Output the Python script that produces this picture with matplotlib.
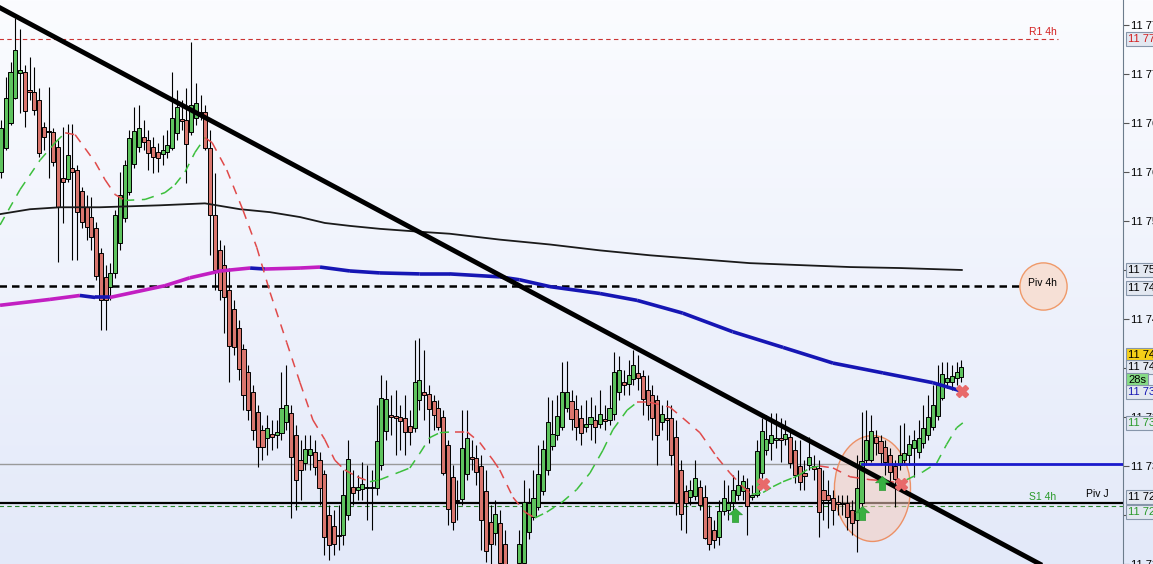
import numpy as np
import matplotlib
matplotlib.use('Agg')
import matplotlib.pyplot as plt
import matplotlib.transforms as mtrans
from matplotlib.patches import Rectangle, Ellipse
from matplotlib.colors import LinearSegmentedColormap

plt.rcParams['font.family'] = ['Liberation Sans', 'DejaVu Sans']

# ── Candles (one value per bar) ──────────────────────────────────────────
opens = [
    11760.0, 11762.4, 11765.0, 11767.6, 11770.1, 11770.2, 11768.4, 11768.2, 11767.3, 11764.6,
    11764.2, 11764.1, 11762.5, 11759.4, 11759.3, 11760.4, 11760.2, 11758.1, 11756.4, 11755.4,
    11754.3, 11751.7, 11749.3, 11748.3, 11749.7, 11752.8, 11755.3, 11758.0, 11760.8, 11762.5,
    11763.6, 11763.3, 11762.5, 11762.0, 11761.8, 11762.0, 11762.4, 11764.0, 11765.4, 11765.3,
    11764.1, 11765.5, 11766.1, 11766.1, 11762.4, 11755.6, 11752.0, 11750.5, 11748.0, 11746.0,
    11744.1, 11741.9, 11739.6, 11737.6, 11735.5, 11733.7, 11732.9, 11733.3, 11733.2, 11733.4,
    11734.5, 11735.4, 11733.2, 11730.6, 11730.3, 11731.1, 11731.4, 11730.6, 11729.2, 11725.0,
    11723.9, 11723.0, 11723.0, 11725.0, 11727.9, 11727.6, 11727.7, 11727.8, 11727.8, 11727.8,
    11730.1, 11733.6, 11735.2, 11735.1, 11735.0, 11734.9, 11734.1, 11733.9, 11736.7, 11737.6,
    11737.3, 11736.6, 11735.9, 11735.0, 11732.1, 11728.9, 11726.5, 11726.6, 11729.2, 11730.9,
    11730.8, 11730.0, 11727.4, 11724.3, 11723.2, 11724.2, 11722.0, 11718.9, 11717.3, 11720.1,
    11720.1, 11723.3, 11724.8, 11725.8, 11727.4, 11729.6, 11732.0, 11733.2, 11734.0, 11735.9,
    11736.6, 11735.8, 11734.9, 11734.0, 11734.3, 11734.7, 11734.3, 11734.8, 11734.7, 11735.3,
    11737.5, 11738.6, 11738.4, 11738.9, 11739.5, 11739.2, 11737.8, 11737.2, 11736.7, 11734.5,
    11734.9, 11734.9, 11733.0, 11729.6, 11727.4, 11726.8, 11726.9, 11727.9, 11726.8, 11724.8,
    11723.5, 11722.8, 11725.4, 11725.5, 11726.3, 11727.0, 11727.4, 11727.8, 11726.8, 11727.0,
    11729.3, 11731.6, 11732.3, 11732.7, 11732.9, 11732.8, 11733.0, 11731.6, 11730.0, 11729.3,
    11730.1, 11730.0, 11729.8, 11727.6, 11727.0, 11726.7, 11726.3, 11726.2, 11726.2, 11725.5,
    11724.5, 11726.2, 11730.6, 11730.6, 11733.0, 11732.5, 11731.9, 11731.1, 11730.0, 11730.1,
    11730.6, 11731.1, 11731.8, 11731.4, 11732.3, 11733.2, 11734.0, 11735.1, 11736.9, 11738.6,
    11738.6, 11739.0, 11739.1,
]
closes = [
    11764.5, 11767.6, 11770.2, 11772.4, 11770.4, 11766.2, 11768.2, 11766.3, 11761.9, 11763.6,
    11764.1, 11761.0, 11756.4, 11759.0, 11761.7, 11760.0, 11755.9, 11754.9, 11754.4, 11753.4,
    11749.4, 11746.9, 11746.9, 11749.7, 11755.6, 11757.7, 11760.7, 11763.5, 11764.2, 11764.5,
    11763.1, 11761.9, 11761.5, 11761.4, 11762.2, 11762.8, 11765.5, 11766.6, 11765.2, 11762.9,
    11766.8, 11767.0, 11766.0, 11762.4, 11755.6, 11750.0, 11748.0, 11747.2, 11742.2, 11742.1,
    11739.9, 11737.2, 11735.7, 11733.7, 11731.9, 11731.9, 11733.9, 11733.0, 11733.5, 11735.9,
    11736.2, 11730.9, 11728.6, 11729.6, 11731.7, 11731.7, 11729.9, 11727.8, 11722.8, 11721.9,
    11722.0, 11722.9, 11727.0, 11730.7, 11727.2, 11727.9, 11728.2, 11727.8, 11727.8, 11732.5,
    11736.9, 11736.8, 11735.0, 11734.9, 11734.6, 11733.5, 11733.5, 11738.6, 11738.8, 11737.2,
    11735.8, 11735.2, 11734.0, 11729.3, 11725.6, 11724.3, 11726.4, 11731.8, 11732.9, 11730.7,
    11729.4, 11724.5, 11721.3, 11722.0, 11725.1, 11720.1, 11718.9, 11717.3, 11718.9, 11722.0,
    11726.3, 11726.2, 11726.7, 11729.2, 11731.7, 11734.5, 11733.3, 11735.1, 11737.6, 11737.6,
    11734.8, 11734.0, 11733.4, 11734.3, 11735.0, 11734.0, 11735.3, 11734.6, 11735.9, 11739.6,
    11739.8, 11738.3, 11739.3, 11740.3, 11739.0, 11736.8, 11736.2, 11734.9, 11733.2, 11735.3,
    11734.7, 11731.1, 11726.2, 11725.1, 11726.2, 11727.5, 11728.8, 11726.0, 11722.7, 11722.0,
    11722.4, 11725.4, 11726.7, 11726.2, 11727.5, 11728.1, 11728.5, 11725.9, 11727.0, 11731.5,
    11733.6, 11732.8, 11733.2, 11732.9, 11732.7, 11733.3, 11730.3, 11729.1, 11728.4, 11729.0,
    11730.9, 11729.7, 11725.3, 11726.5, 11726.5, 11725.5, 11726.1, 11726.1, 11724.8, 11724.2,
    11727.8, 11730.5, 11732.7, 11733.6, 11732.3, 11731.3, 11730.4, 11729.4, 11728.7, 11731.1,
    11731.3, 11732.2, 11732.7, 11732.9, 11733.9, 11735.0, 11736.2, 11738.3, 11739.4, 11739.0,
    11739.2, 11739.6, 11740.1,
]
highs = [
    11765.3, 11769.7, 11771.2, 11775.7, 11774.6, 11770.9, 11771.7, 11770.7, 11768.6, 11765.1,
    11768.7, 11764.5, 11763.3, 11764.6, 11764.9, 11764.9, 11760.7, 11758.5, 11757.7, 11757.4,
    11754.9, 11752.2, 11750.5, 11750.7, 11756.1, 11760.0, 11761.2, 11764.3, 11766.6, 11766.8,
    11765.3, 11764.3, 11763.6, 11763.0, 11763.8, 11764.3, 11770.2, 11768.4, 11767.3, 11768.6,
    11773.3, 11769.1, 11767.9, 11766.8, 11764.3, 11759.9, 11753.1, 11752.5, 11750.2, 11746.9,
    11744.9, 11742.4, 11740.3, 11738.3, 11736.2, 11734.2, 11735.2, 11734.7, 11734.7, 11739.6,
    11740.3, 11736.2, 11734.2, 11732.7, 11733.2, 11733.2, 11732.7, 11731.4, 11729.6, 11726.0,
    11725.5, 11726.0, 11729.6, 11732.7, 11729.6, 11729.1, 11730.4, 11730.1, 11729.6, 11736.2,
    11739.3, 11738.8, 11737.2, 11737.8, 11736.2, 11737.2, 11735.7, 11742.9, 11743.1, 11741.8,
    11738.3, 11737.2, 11736.7, 11735.7, 11732.7, 11730.1, 11728.6, 11735.7, 11735.7, 11732.7,
    11732.1, 11731.1, 11729.6, 11726.0, 11726.5, 11725.5, 11723.5, 11719.9, 11719.4, 11723.5,
    11728.6, 11727.8, 11729.6, 11732.1, 11732.7, 11737.0, 11736.7, 11737.2, 11740.6, 11740.7,
    11737.8, 11737.2, 11736.2, 11736.7, 11737.0, 11736.2, 11737.8, 11736.2, 11738.3, 11741.6,
    11741.2, 11739.8, 11740.8, 11741.8, 11741.3, 11739.8, 11739.3, 11738.3, 11737.2, 11736.2,
    11736.7, 11736.2, 11734.7, 11730.6, 11728.1, 11728.6, 11730.6, 11728.6, 11728.1, 11726.0,
    11724.5, 11726.5, 11728.6, 11728.1, 11729.1, 11729.6, 11729.1, 11728.8, 11728.1, 11732.7,
    11734.9, 11735.2, 11735.4, 11735.4, 11734.9, 11734.7, 11733.7, 11732.7, 11732.7, 11730.6,
    11733.0, 11731.1, 11730.6, 11729.6, 11728.6, 11727.6, 11727.0, 11727.0, 11727.0, 11726.5,
    11731.1, 11735.5, 11735.7, 11735.2, 11733.7, 11733.2, 11732.7, 11731.8, 11730.6, 11734.2,
    11734.4, 11733.2, 11733.7, 11734.7, 11736.2, 11737.2, 11738.3, 11740.3, 11740.6, 11740.6,
    11740.3, 11740.6, 11740.8,
]
lows = [
    11759.4, 11762.2, 11764.8, 11767.4, 11766.0, 11764.6, 11767.3, 11765.8, 11761.5, 11762.2,
    11759.4, 11760.6, 11750.8, 11754.8, 11759.0, 11751.0, 11751.0, 11754.3, 11753.1, 11752.0,
    11749.0, 11743.9, 11743.9, 11746.9, 11749.2, 11752.0, 11754.9, 11757.7, 11760.4, 11762.0,
    11762.2, 11760.2, 11759.9, 11760.0, 11760.7, 11761.4, 11762.2, 11763.3, 11764.3, 11758.9,
    11763.8, 11764.8, 11765.3, 11762.2, 11751.5, 11748.0, 11746.9, 11743.6, 11738.6, 11741.3,
    11738.8, 11735.7, 11734.7, 11732.7, 11729.9, 11730.6, 11731.1, 11731.6, 11731.8, 11732.7,
    11733.7, 11724.7, 11725.5, 11726.5, 11729.6, 11729.6, 11729.1, 11726.0, 11720.9, 11720.4,
    11720.9, 11721.4, 11721.9, 11724.5, 11726.0, 11726.5, 11726.5, 11724.5, 11723.5, 11727.0,
    11729.6, 11732.7, 11733.2, 11731.1, 11731.6, 11731.1, 11732.1, 11733.5, 11735.7, 11734.7,
    11732.3, 11733.7, 11733.7, 11729.1, 11724.0, 11723.5, 11724.5, 11726.0, 11728.6, 11729.6,
    11728.1, 11721.4, 11720.2, 11720.0, 11721.9, 11718.9, 11717.3, 11716.3, 11716.3, 11719.4,
    11719.9, 11722.5, 11724.5, 11725.5, 11727.0, 11729.1, 11731.6, 11732.7, 11733.7, 11735.5,
    11733.7, 11732.7, 11732.1, 11733.5, 11732.7, 11732.3, 11733.9, 11733.7, 11734.2, 11734.7,
    11736.7, 11737.2, 11737.2, 11738.3, 11737.8, 11735.2, 11734.7, 11732.7, 11730.1, 11733.7,
    11732.7, 11730.1, 11725.0, 11723.5, 11723.2, 11726.0, 11726.5, 11725.5, 11722.5, 11721.4,
    11721.6, 11721.9, 11725.0, 11724.5, 11725.5, 11726.5, 11726.5, 11723.0, 11726.5, 11726.8,
    11728.8, 11731.1, 11730.6, 11731.8, 11730.4, 11732.1, 11729.8, 11728.3, 11727.6, 11727.6,
    11729.6, 11728.6, 11722.8, 11724.5, 11723.7, 11724.0, 11725.0, 11725.0, 11723.5, 11723.0,
    11721.2, 11725.5, 11730.1, 11730.4, 11731.1, 11730.1, 11729.1, 11728.1, 11725.8, 11729.6,
    11730.1, 11730.1, 11728.9, 11730.8, 11731.8, 11732.7, 11733.7, 11734.7, 11736.7, 11738.0,
    11737.8, 11738.3, 11738.6,
]

# ── Indicators (bar index, price) ───────────────────────────────────────
slow_bar = [-0.2, 6.1, 12.4, 20.8, 33.4, 42.9, 50.3, 56.6, 62.9, 68.1, 73.4, 79.7,
            88.1, 94.4, 104.9, 115.5, 126.0, 136.5, 147.0, 157.5, 168.0, 178.6, 189.1, 202.1]
slow_val = [11755.7, 11756.2, 11756.4, 11756.4, 11756.6, 11756.8, 11756.2, 11755.9,
            11755.4, 11754.8, 11754.5, 11754.2, 11753.9, 11753.7, 11753.1, 11752.6,
            11752.0, 11751.5, 11751.1, 11750.7, 11750.5, 11750.3, 11750.2, 11750.0]

mid_bar = [-0.2, 10.3, 16.6, 19.8, 22.9, 34.5, 39.7, 46.1, 52.4, 55.5, 62.9, 67.1,
           73.4, 79.7, 88.1, 94.4, 104.9, 109.1, 115.5, 126.0, 133.8, 143.4, 153.9,
           164.5, 175.0, 185.5, 196.0, 202.3]
mid_val = [11746.4, 11747.0, 11747.4, 11747.2, 11747.2, 11748.4, 11749.2, 11749.9,
           11750.2, 11750.1, 11750.2, 11750.3, 11749.9, 11749.7, 11749.6, 11749.6,
           11749.3, 11749.0, 11748.3, 11747.6, 11746.9, 11745.6, 11743.7, 11742.1,
           11740.5, 11739.5, 11738.5, 11737.6]

fast_bar = [-0.2, 4.0, 8.2, 11.4, 13.5, 15.6, 17.7, 19.8, 21.9, 24.0, 26.1, 30.3, 34.5,
            36.6, 38.7, 40.8, 42.9, 44.4, 47.5, 50.9, 53.8, 56.6, 60.1, 62.9, 65.6,
            68.1, 70.2, 72.3, 74.9, 77.6, 79.7, 83.9, 86.0, 88.1, 90.2, 92.3, 95.5,
            98.0, 100.7, 103.5, 104.9, 107.7, 110.2, 112.3, 114.8, 118.0, 121.1,
            123.9, 126.6, 128.7, 131.7, 133.8, 136.5, 140.7, 143.4, 147.0, 150.6,
            153.3, 156.0, 157.9, 160.3, 162.4, 164.5, 166.6, 168.0, 170.1, 172.2,
            175.0, 178.6, 182.8, 185.9, 188.4, 190.5, 193.9, 196.8, 198.9, 201.0, 202.3]
fast_val = [11754.6, 11758.2, 11761.2, 11763.0, 11764.0, 11763.8, 11762.4, 11761.0,
            11759.2, 11757.7, 11757.1, 11757.2, 11757.9, 11758.7, 11760.0, 11762.0,
            11763.5, 11763.0, 11760.2, 11756.1, 11752.3, 11747.7, 11742.6, 11738.5,
            11734.7, 11732.7, 11730.6, 11729.6, 11728.9, 11728.4, 11728.6, 11729.4,
            11729.8, 11731.3, 11732.9, 11733.4, 11733.5, 11733.5, 11732.4, 11730.6,
            11729.6, 11726.8, 11725.3, 11724.7, 11725.3, 11726.3, 11727.6, 11729.3,
            11731.6, 11733.7, 11735.7, 11736.5, 11736.5, 11736.0, 11734.9, 11733.4,
            11730.9, 11729.3, 11727.9, 11727.1, 11727.3, 11727.9, 11728.4, 11728.8,
            11729.1, 11729.8, 11730.0, 11729.8, 11728.9, 11728.6, 11728.5, 11728.3,
            11728.6, 11729.4, 11730.3, 11732.2, 11733.9, 11734.4]

trend_bar = [0, 200]
trend_val = [11776.7, 11724.8]

# ── Levels ───────────────────────────────────────────────────────────────
r1_level = 11773.6
piv4h_level = 11748.4
pivj_level = 11726.2
s1_level = 11725.9
gray_level = 11730.2
blue_level = 11730.2
ask_price = 11741.3
timer_text = '28s'

# signals
buy_bar = [154.4, 181.1, 185.3]
buy_val = [11725.0, 11725.2, 11728.3]
exit_bar = [160.3, 189.3, 202.1]
exit_val = [11728.2, 11728.2, 11737.7]

GREEN = '#5ec35e'
RED = '#d9766e'


def label(v):
    return f"11 {v - 11000:.0f}"


W, H = 1153, 564
fig = plt.figure(figsize=(W / 100, H / 100), dpi=100)

bg = fig.add_axes([0, 0, 1, 1], zorder=-10)
cmap = LinearSegmentedColormap.from_list('bg', ['#fbfcff', '#e3e9f9'])
bg.imshow(np.linspace(0, 1, 256)[:, None], aspect='auto', cmap=cmap, extent=[0, 1, 0, 1])
bg.axis('off')

ax = fig.add_axes([0, 0, 1123 / W, 1])
ax.patch.set_alpha(0)
ax.set_xlim(-0.21, 236.0)
ax.set_ylim(11720.0, 11777.55)

# horizontal levels
ax.plot([-1, 181.1], [gray_level] * 2, color='#9a9a9a', lw=1.0, zorder=2)
ax.plot([181.1, 240], [blue_level] * 2, color='#1a1acc', lw=2.0, zorder=6)
ax.plot([-1, 222.3], [r1_level] * 2, color='#cc3333', lw=0.8, ls=(0, (4, 3)), zorder=2)
ax.plot([-1, 223.1], [piv4h_level] * 2, color='black', lw=1.8, ls=(0, (3, 2)), zorder=2)
ax.plot([-1, 240], [pivj_level] * 2, color='black', lw=1.6, zorder=2)
ax.plot([-1, 240], [s1_level] * 2, color='#2a8a2a', lw=0.8, ls=(0, (4, 3)), zorder=2)

# ellipse highlight
ax.add_patch(Ellipse((183.3, 11727.7), 16.0, 10.8, fc=(0.96, 0.80, 0.74, 0.55),
                     ec='#ec9066', lw=1.0, zorder=2.5))

# candles
o = np.array(opens); c = np.array(closes)
hi = np.array(highs); lo = np.array(lows)
idx = np.arange(len(o))
ax.vlines(idx, lo, hi, color='black', lw=0.8, zorder=3)
bw = 0.86
for i in idx:
    bot = min(o[i], c[i])
    ht = max(abs(c[i] - o[i]), 0.04)
    ax.add_patch(Rectangle((i - bw / 2, bot), bw, ht, fc=GREEN if c[i] >= o[i] else RED,
                           ec='black', lw=0.7, zorder=4))

# moving averages
ax.plot(slow_bar, slow_val, color='#1a1a1a', lw=1.3, zorder=5)
for k in range(len(mid_bar) - 1):
    col = '#c21fc2' if mid_val[k + 1] > mid_val[k] else '#1616b4'
    ax.plot(mid_bar[k:k + 2], mid_val[k:k + 2], color=col, lw=2.6, zorder=5,
            solid_capstyle='butt')
for k in range(len(fast_bar) - 1):
    col = '#3cbf3c' if fast_val[k + 1] > fast_val[k] else '#e04a4a'
    ax.plot(fast_bar[k:k + 2], fast_val[k:k + 2], color=col, lw=1.1,
            ls=(0, (6, 5)), zorder=5)

# trendline
ax.axline((trend_bar[0], trend_val[0]), (trend_bar[1], trend_val[1]), color='black',
          lw=3.5, zorder=6)

# signals
arrow = [(0, 1), (1, 0.1), (0.45, 0.1), (0.45, -1), (-0.45, -1), (-0.45, 0.1), (-1, 0.1), (0, 1)]
ax.plot(buy_bar, buy_val, ls='none', marker=arrow, ms=10, mfc='#38b040', mec='#2a9a32',
        mew=0.5, zorder=7)
ax.plot(exit_bar, exit_val, ls='none', marker='X', ms=9, mfc='#e86a6a', mec='#e86a6a',
        zorder=7)

# level labels
ax.text(219.1, 11774.3, 'R1 4h', color='#d42020', fontsize=7.5, ha='center', va='center')
ax.text(219.1, 11726.8, 'S1 4h', color='#2a9a2a', fontsize=7.5, ha='center', va='center')
ax.text(230.5, 11727.1, 'Piv J', color='black', fontsize=7.5, ha='center', va='center')
ax.plot([219.1], [piv4h_level], 'o', ms=34, mfc='#f6e0d6', mec='#ef9a6a', mew=1.0, zorder=3)
ax.text(219.1, piv4h_level + 0.3, 'Piv 4h', color='black', fontsize=7.5, ha='center',
        va='center', zorder=4)

# right axis
ticks = np.arange(11720, 11776, 5)
ax.set_yticks(ticks)
ax.set_yticklabels([label(t) for t in ticks])
ax.yaxis.tick_right()
ax.set_xticks([])
for s in ['left', 'top', 'bottom']:
    ax.spines[s].set_visible(False)
ax.spines['right'].set_color('#6c7c8c')
ax.tick_params(axis='y', direction='out', length=4, width=0.8, color='#555555',
               labelsize=8, pad=2)

# price boxes on the axis
tr = mtrans.blended_transform_factory(ax.transAxes, ax.transData)
boxes = [
    (r1_level, label(r1_level), '#d42020', '#e3e8f1'),
    (slow_val[-1], label(slow_val[-1]), 'black', '#e3e8f1'),
    (piv4h_level - 0.2, label(piv4h_level), 'black', '#e3e8f1'),
    (ask_price, label(ask_price), 'black', '#f5cf18'),
    (closes[-1], label(closes[-1]), 'black', '#e3e8f1'),
    (closes[-1] - 1.35, timer_text, 'black', '#86dc86'),
    (mid_val[-1], label(mid_val[-1]), '#1616b4', '#e3e8f1'),
    (fast_val[-1], label(fast_val[-1]), '#2a9a2a', '#e3e8f1'),
    (pivj_level + 0.6, label(pivj_level), 'black', '#e3e8f1'),
    (s1_level - 0.6, label(s1_level), '#2a9a2a', '#e3e8f1'),
]
for y, txt, fg, bgc in boxes:
    ax.text(1.0045, y, txt, transform=tr, color=fg, fontsize=8, ha='left', va='center',
            clip_on=False, zorder=10,
            bbox=dict(boxstyle='square,pad=0.18', fc=bgc, ec='#8796aa', lw=0.8))

fig.savefig('out.png', dpi=100)
